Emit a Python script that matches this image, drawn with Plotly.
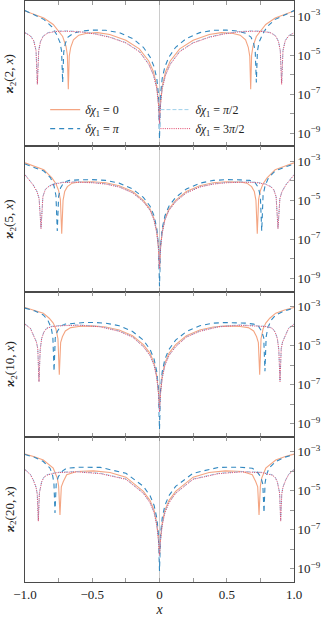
import numpy as np
import plotly.graph_objects as go
from plotly.subplots import make_subplots

# ---------------- data (left half, x <= 0; log10 of chi_2) ----------------
orders = [2, 5, 10, 20]
legend_names = ["<i>δχ</i><sub>1</sub> = 0", "<i>δχ</i><sub>1</sub> = <i>π</i>",
                "<i>δχ</i><sub>1</sub> = <i>π</i>/2", "<i>δχ</i><sub>1</sub> = 3<i>π</i>/2"]

# n = 2
x_n2_d0 = [-1.0, -0.93, -0.86, -0.79, -0.75, -0.72, -0.695, -0.685, -0.678, -0.671, -0.66, -0.64, -0.6, -0.54, -0.46, -0.37, -0.25, -0.15, -0.08, -0.045, -0.02, -0.008, 0.0]
ly_n2_d0 = [-2.74, -2.92, -3.1, -3.43, -3.77, -4.05, -4.55, -5.0, -6.75, -5.05, -4.6, -4.22, -3.98, -3.88, -3.85, -3.95, -4.24, -4.68, -5.3, -5.85, -6.6, -7.4, -8.0]
x_n2_dpi = [-1.0, -0.93, -0.86, -0.8, -0.765, -0.74, -0.728, -0.72, -0.712, -0.70, -0.68, -0.64, -0.58, -0.5, -0.4, -0.3, -0.2, -0.12, -0.07, -0.04, -0.02, -0.008, 0.0]
ly_n2_dpi = [-2.72, -2.95, -3.17, -3.55, -3.95, -4.35, -4.8, -6.4, -4.85, -4.4, -4.08, -3.88, -3.77, -3.72, -3.73, -3.85, -4.15, -4.6, -5.1, -5.6, -6.2, -7.0, -9.3]
x_n2_dq = [-1.0, -0.96, -0.935, -0.918, -0.908, -0.898, -0.885, -0.865, -0.83, -0.77, -0.68, -0.58, -0.48, -0.37, -0.25, -0.15, -0.08, -0.045, -0.02, -0.008, 0.0]
ly_n2_dhalfpi = [-3.85, -4.0, -4.25, -4.75, -6.46, -4.75, -4.3, -4.02, -3.85, -3.77, -3.76, -3.8, -3.9, -4.07, -4.36, -4.8, -5.45, -6.0, -6.7, -7.5, -8.8]
ly_n2_d3halfpi = [-3.86, -4.02, -4.27, -4.78, -6.5, -4.78, -4.32, -4.04, -3.87, -3.79, -3.78, -3.82, -3.92, -4.09, -4.38, -4.83, -5.48, -6.03, -6.72, -7.5, -8.5]

# n = 5
x_n5_d0 = [-1.0, -0.93, -0.86, -0.8, -0.77, -0.75, -0.737, -0.727, -0.717, -0.705, -0.685, -0.65, -0.6, -0.5, -0.4, -0.3, -0.2, -0.12, -0.07, -0.04, -0.02, -0.008, 0.0]
ly_n5_d0 = [-3.08, -3.25, -3.43, -3.85, -4.15, -4.5, -4.95, -6.71, -5.0, -4.55, -4.3, -4.12, -4.06, -4.05, -4.1, -4.25, -4.55, -5.0, -5.45, -5.95, -6.6, -7.4, -8.6]
x_n5_dpi = [-1.0, -0.93, -0.86, -0.81, -0.785, -0.77, -0.76, -0.75, -0.735, -0.71, -0.67, -0.6, -0.5, -0.4, -0.3, -0.2, -0.12, -0.07, -0.04, -0.02, -0.008, 0.0]
ly_n5_dpi = [-3.14, -3.3, -3.5, -3.85, -4.25, -4.75, -6.57, -4.8, -4.35, -4.08, -3.98, -3.95, -3.94, -3.98, -4.12, -4.42, -4.85, -5.3, -5.8, -6.45, -7.3, -9.4]
x_n5_dq = [-1.0, -0.94, -0.91, -0.895, -0.881, -0.867, -0.85, -0.83, -0.79, -0.72, -0.62, -0.5, -0.4, -0.3, -0.2, -0.12, -0.07, -0.04, -0.02, -0.008, 0.0]
ly_n5_dhalfpi = [-3.68, -4.19, -4.55, -4.9, -6.43, -4.8, -4.45, -4.3, -4.16, -4.07, -4.05, -4.08, -4.15, -4.3, -4.6, -5.05, -5.5, -6.0, -6.65, -7.4, -8.7]
ly_n5_d3halfpi = [-3.7, -4.21, -4.57, -4.92, -6.45, -4.82, -4.47, -4.32, -4.18, -4.09, -4.07, -4.1, -4.17, -4.32, -4.62, -5.07, -5.52, -6.02, -6.67, -7.4, -8.5]

# n = 10
x_n10_d0 = [-1.0, -0.93, -0.864, -0.82, -0.79, -0.77, -0.755, -0.745, -0.735, -0.722, -0.7, -0.66, -0.6, -0.5, -0.4, -0.3, -0.2, -0.12, -0.07, -0.04, -0.02, -0.008, 0.0]
ly_n10_d0 = [-3.05, -3.18, -3.34, -3.6, -3.85, -4.15, -4.65, -6.49, -4.85, -4.55, -4.25, -4.08, -4.02, -3.99, -4.05, -4.2, -4.5, -4.95, -5.4, -5.9, -6.55, -7.35, -8.1]
x_n10_dpi = [-1.0, -0.93, -0.864, -0.83, -0.805, -0.793, -0.784, -0.775, -0.76, -0.735, -0.7, -0.64, -0.56, -0.48, -0.4, -0.3, -0.2, -0.12, -0.07, -0.04, -0.02, -0.008, 0.0]
ly_n10_dpi = [-3.08, -3.22, -3.43, -3.7, -4.1, -4.55, -6.32, -4.6, -4.28, -4.0, -3.9, -3.85, -3.82, -3.82, -3.85, -3.98, -4.28, -4.72, -5.2, -5.7, -6.35, -7.2, -9.3]
x_n10_dq = [-1.0, -0.96, -0.938, -0.915, -0.905, -0.896, -0.887, -0.876, -0.86, -0.839, -0.8, -0.72, -0.6, -0.44, -0.3, -0.2, -0.12, -0.07, -0.04, -0.02, -0.008, 0.0]
ly_n10_dhalfpi = [-3.89, -4.1, -4.45, -4.8, -5.15, -6.83, -5.2, -4.62, -4.3, -4.1, -4.01, -3.96, -3.94, -4.02, -4.25, -4.55, -5.04, -5.5, -6.0, -6.65, -7.4, -8.6]
ly_n10_d3halfpi = [-3.91, -4.12, -4.47, -4.82, -5.17, -6.85, -5.22, -4.64, -4.32, -4.12, -4.03, -3.98, -3.96, -4.04, -4.27, -4.57, -5.06, -5.52, -6.02, -6.67, -7.4, -8.4]

# n = 20
x_n20_d0 = [-1.0, -0.93, -0.864, -0.79, -0.76, -0.75, -0.74, -0.73, -0.715, -0.69, -0.616, -0.49, -0.368, -0.25, -0.12, -0.07, -0.04, -0.02, -0.008, 0.0]
ly_n20_d0 = [-3.12, -3.25, -3.42, -3.84, -4.35, -4.75, -6.24, -4.8, -4.52, -4.18, -4.01, -3.98, -4.06, -4.3, -5.03, -5.5, -6.0, -6.65, -7.4, -8.3]
x_n20_dpi = [-1.0, -0.93, -0.864, -0.814, -0.795, -0.785, -0.777, -0.768, -0.752, -0.72, -0.69, -0.59, -0.44, -0.25, -0.12, -0.07, -0.04, -0.02, -0.008, 0.0]
ly_n20_dpi = [-3.14, -3.28, -3.5, -3.84, -4.2, -4.6, -6.13, -4.65, -4.27, -3.98, -3.84, -3.79, -3.8, -4.1, -4.77, -5.25, -5.75, -6.4, -7.2, -9.1]
x_n20_dq = [-1.0, -0.96, -0.938, -0.918, -0.909, -0.901, -0.893, -0.876, -0.86, -0.839, -0.765, -0.616, -0.44, -0.25, -0.12, -0.07, -0.04, -0.02, -0.008, 0.0]
ly_n20_dhalfpi = [-3.9, -4.15, -4.44, -4.8, -5.15, -6.51, -5.1, -4.52, -4.3, -4.18, -4.05, -4.01, -4.1, -4.39, -5.11, -5.6, -6.1, -6.75, -7.5, -8.5]
ly_n20_d3halfpi = [-3.92, -4.17, -4.46, -4.82, -5.17, -6.55, -5.12, -4.54, -4.32, -4.2, -4.07, -4.03, -4.12, -4.41, -5.13, -5.62, -6.12, -6.77, -7.5, -8.3]

panels = [
    [(x_n2_d0, ly_n2_d0), (x_n2_dpi, ly_n2_dpi), (x_n2_dq, ly_n2_dhalfpi), (x_n2_dq, ly_n2_d3halfpi)],
    [(x_n5_d0, ly_n5_d0), (x_n5_dpi, ly_n5_dpi), (x_n5_dq, ly_n5_dhalfpi), (x_n5_dq, ly_n5_d3halfpi)],
    [(x_n10_d0, ly_n10_d0), (x_n10_dpi, ly_n10_dpi), (x_n10_dq, ly_n10_dhalfpi), (x_n10_dq, ly_n10_d3halfpi)],
    [(x_n20_d0, ly_n20_d0), (x_n20_dpi, ly_n20_dpi), (x_n20_dq, ly_n20_dhalfpi), (x_n20_dq, ly_n20_d3halfpi)],
]

y_tick_vals = [1e-9, 1e-7, 1e-5, 1e-3]
y_tick_text = ["10<sup>−9</sup>", "10<sup>−7</sup>", "10<sup>−5</sup>", "10<sup>−3</sup>"]
y_minor_vals = [1e-8, 1e-6, 1e-4]
x_tick_vals = [-1.0, -0.5, 0.0, 0.5, 1.0]
x_tick_text = ["−1.0", "−0.5", "0", "0.5", "1.0"]
x_minor_vals = [-0.75, -0.25, 0.25, 0.75]

# ---------------- styling ----------------
styles = [
    dict(color="#f4a582", dash="solid", width=1.1),
    dict(color="#3288c0", dash="5px,4px", width=1.1),
    dict(color="#9fd0ea", dash="4px,2px", width=1.0),
    dict(color="#e0456a", dash="1px,1.2px", width=1.0),
]
legend_of = ["legend", "legend", "legend2", "legend2"]
FONT = "Liberation Serif"
AX = "#4a4a4a"
TICKC = "#9a9a9a"

fig = make_subplots(rows=4, cols=1, shared_xaxes=True, vertical_spacing=0)

for r, curves in enumerate(panels, start=1):
    for k, (xh, lyh) in enumerate(curves):
        xh = np.array(xh)
        lyh = np.array(lyh)
        x_full = np.concatenate([xh, -xh[::-1][1:]])
        y_full = np.power(10.0, np.concatenate([lyh, lyh[::-1][1:]]))
        fig.add_trace(go.Scatter(
            x=x_full, y=y_full, mode="lines",
            line=styles[k], name=legend_names[k],
            showlegend=(r == 1), legend=legend_of[k],
        ), row=r, col=1)
    fig.update_yaxes(
        type="log", range=[-9.67, -2.23], side="right",
        tickvals=y_tick_vals, ticktext=y_tick_text,
        ticks="inside", ticklen=4, tickcolor=TICKC,
        minor=dict(tickvals=y_minor_vals, ticks="inside", ticklen=4, tickcolor=TICKC),
        showline=True, mirror=True, linecolor=AX, linewidth=1,
        showgrid=False, zeroline=False, tickfont=dict(family=FONT, size=13),
        row=r, col=1)
    fig.update_xaxes(
        range=[-1, 1], tickvals=x_tick_vals, ticktext=x_tick_text,
        ticks="inside", ticklen=4, tickcolor=TICKC,
        minor=dict(tickvals=x_minor_vals, ticks="inside", ticklen=4, tickcolor=TICKC),
        showline=True, mirror="ticks", linecolor=AX, linewidth=1,
        showgrid=False, zeroline=True, zerolinecolor="#cccccc", zerolinewidth=1,
        tickfont=dict(family=FONT, size=13),
        row=r, col=1)
    fig.add_annotation(
        text=f"<b><i>ϰ</i></b><sub>2</sub>({orders[r-1]}, <i>x</i>)",
        xref="paper", yref="y%s domain" % ("" if r == 1 else r), x=-0.056, y=0.5,
        xanchor="center", yanchor="middle", textangle=-90, showarrow=False,
        font=dict(family=FONT, size=13, color="#222"))

fig.update_xaxes(title=dict(text="<i>x</i>", standoff=3, font=dict(family=FONT, size=14)), row=4, col=1)

leg_common = dict(orientation="v", yanchor="top", y=0.838, xanchor="left",
                  bgcolor="rgba(0,0,0,0)", font=dict(family=FONT, size=12, color="#222"),
                  itemwidth=30, tracegroupgap=0)
fig.update_layout(
    width=333, height=617,
    margin=dict(l=25, r=39, t=1, b=35),
    paper_bgcolor="white", plot_bgcolor="white",
    font=dict(family=FONT, size=13, color="#222"),
    legend=dict(x=0.075, **leg_common),
    legend2=dict(x=0.485, **leg_common),
)

fig.write_html("out.html", config={"displayModeBar": False},
               post_script="document.body.style.margin='0px';")
